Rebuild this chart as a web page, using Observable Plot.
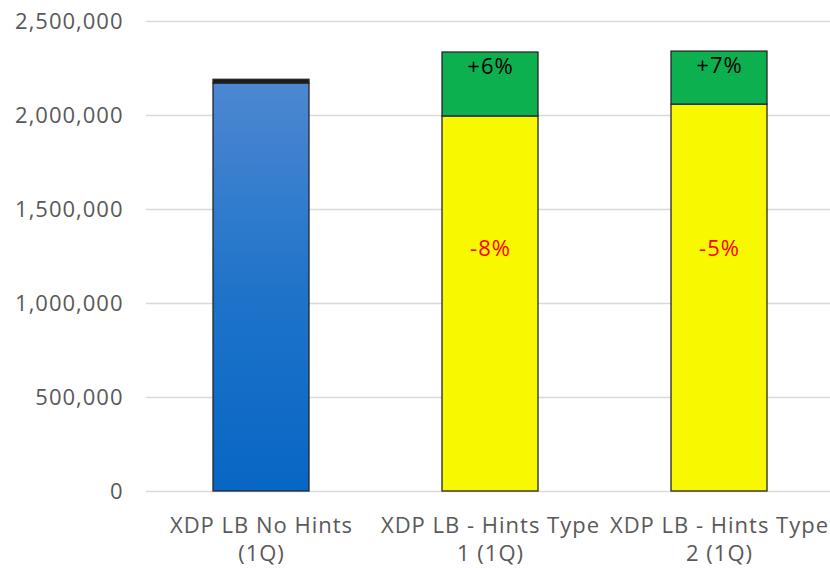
<!DOCTYPE html>
<html>
<head>
<meta charset="utf-8">
<script src="https://cdn.jsdelivr.net/npm/d3@7"></script>
<script src="https://cdn.jsdelivr.net/npm/@observablehq/plot@0.6"></script>
<style>
  html, body { margin: 0; padding: 0; background: #fff; }
  #chart { width: 830px; height: 568px; overflow: hidden; }
</style>
</head>
<body>
<div id="chart"></div>
<script>
// ---- data ----
const categories = ["XDP LB No Hints\n(1Q)", "XDP LB - Hints Type\n1 (1Q)", "XDP LB - Hints Type\n2 (1Q)"];
const baseValues = [2170000, 1995000, 2058000];
const topValues = [20000, 340000, 282000];
const baseLabels = ["", "-8%", "-5%"];
const topLabels = ["", "+6%", "+7%"];
const yTicks = [0, 500000, 1000000, 1500000, 2000000, 2500000];

const baseFills = ["url(#blueGrad)", "#f8f800", "#f8f800"];
const topFills = ["#1a1a1a", "#0db04f", "#0db04f"];

const rows = [];
categories.forEach((c, i) => {
  rows.push({cat: c, seg: 0, value: baseValues[i], fill: baseFills[i]});
  rows.push({cat: c, seg: 1, value: topValues[i], fill: topFills[i]});
});
const labelRows = categories.map((c, i) => ({
  cat: c, total: baseValues[i] + topValues[i], top: topLabels[i], base: baseLabels[i]
}));

const font = "'Open Sans', 'Noto Sans', sans-serif";

const chart = Plot.plot({
  width: 830,
  height: 568,
  marginTop: 21,
  marginBottom: 77,
  marginLeft: 146,
  marginRight: -4,
  style: {fontFamily: font, fontSize: "22px", color: "#595959", background: "#fff", letterSpacing: "1px"},
  x: {domain: categories, paddingInner: 0.58, paddingOuter: 0.29, label: null},
  y: {domain: [0, 2500000], label: null},
  color: {type: "identity"},
  marks: [
    Plot.ruleY(yTicks, {stroke: "#d9d9d9", strokeWidth: 1.5}),
    Plot.axisY({ticks: yTicks, tickSize: 0, tickPadding: 23, tickFormat: d3.format(","), fill: "#595959", fontSize: 22, label: null, style: {letterSpacing: "0.4px"}}),
    Plot.axisX({tickSize: 0, tickPadding: 21, fill: "#595959", fontSize: 22, lineHeight: 1.3, label: null}),
    Plot.barY(rows, Plot.stackY({x: "cat", y: "value", z: "seg", order: "seg", fill: "fill", stroke: "#262626", strokeWidth: 1.3})),
    Plot.text(labelRows, {x: "cat", y: "total", text: "top", dy: 14, fill: "#000", fontSize: 22, fontFamily: font}),
    Plot.text(labelRows, {x: "cat", frameAnchor: "top", dy: 219, text: "base", fill: "#ff0000", fontSize: 22, fontFamily: font})
  ]
});

// gradient for the blue bar
const ns = "http://www.w3.org/2000/svg";
const defs = document.createElementNS(ns, "defs");
defs.innerHTML = `<linearGradient id="blueGrad" x1="0" y1="0" x2="0" y2="1">
  <stop offset="0" stop-color="#4d87d2"/>
  <stop offset="0.5" stop-color="#1f74c9"/>
  <stop offset="1" stop-color="#0866c4"/>
</linearGradient>`;
chart.insertBefore(defs, chart.firstChild);

document.getElementById("chart").appendChild(chart);
</script>
</body>
</html>
